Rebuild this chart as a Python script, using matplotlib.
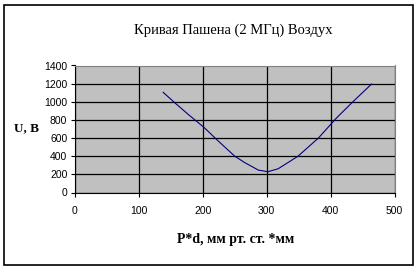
import matplotlib
matplotlib.use("Agg")
import matplotlib.pyplot as plt
from matplotlib.patches import Rectangle

pd_values = [138, 157, 178, 202, 222, 250, 266, 287, 302, 318, 349, 381, 409, 435, 464]
u_values = [1104, 984, 856, 717, 582, 400, 328, 247, 229, 262, 400, 601, 820, 1001, 1195]
x_ticks = [0, 100, 200, 300, 400, 500]
y_ticks = [0, 200, 400, 600, 800, 1000, 1200, 1400]

fig = plt.figure(figsize=(4.18, 2.70), dpi=100)
fig.patch.set_facecolor("white")
fig.patches.append(Rectangle((4 / 418, 5 / 270), 409 / 418, 260 / 270,
                             transform=fig.transFigure, fill=False,
                             edgecolor="black", linewidth=1.2))

ax = fig.add_axes([75 / 418, (270 - 192.5) / 270, 319.5 / 418, 127 / 270])
ax.set_facecolor("#c0c0c0")
ax.plot(pd_values, u_values, color="#000080", linewidth=0.8)

ax.set_xlim(0, 500)
ax.set_ylim(0, 1400)
ax.set_xticks(x_ticks)
ax.set_yticks(y_ticks)
ax.grid(True, color="black", linewidth=0.9)
ax.set_axisbelow(True)
for side in ["top", "right"]:
    ax.spines[side].set_color("#808080")
for side in ["left", "bottom"]:
    ax.spines[side].set_color("black")
ax.tick_params(direction="out", length=3, width=0.8, pad=2.5, labelsize=7.5)
for lab in ax.get_xticklabels() + ax.get_yticklabels():
    lab.set_fontfamily("Liberation Sans")
ax.tick_params(axis="x", pad=7)

fig.text(233 / 418, 1 - 30 / 270, "Кривая Пашена (2 МГц) Воздух",
         ha="center", va="center", fontsize=10.5, family="Liberation Serif")
fig.text(27 / 418, 1 - 128 / 270, "U, B", ha="center", va="center",
         fontsize=9.5, fontweight="bold", family="Liberation Serif")
fig.text(236 / 418, 1 - 240 / 270, "P*d, мм рт. ст. *мм", ha="center", va="center",
         fontsize=10, fontweight="bold", family="Liberation Serif")

fig.savefig("out.png", dpi=100)
